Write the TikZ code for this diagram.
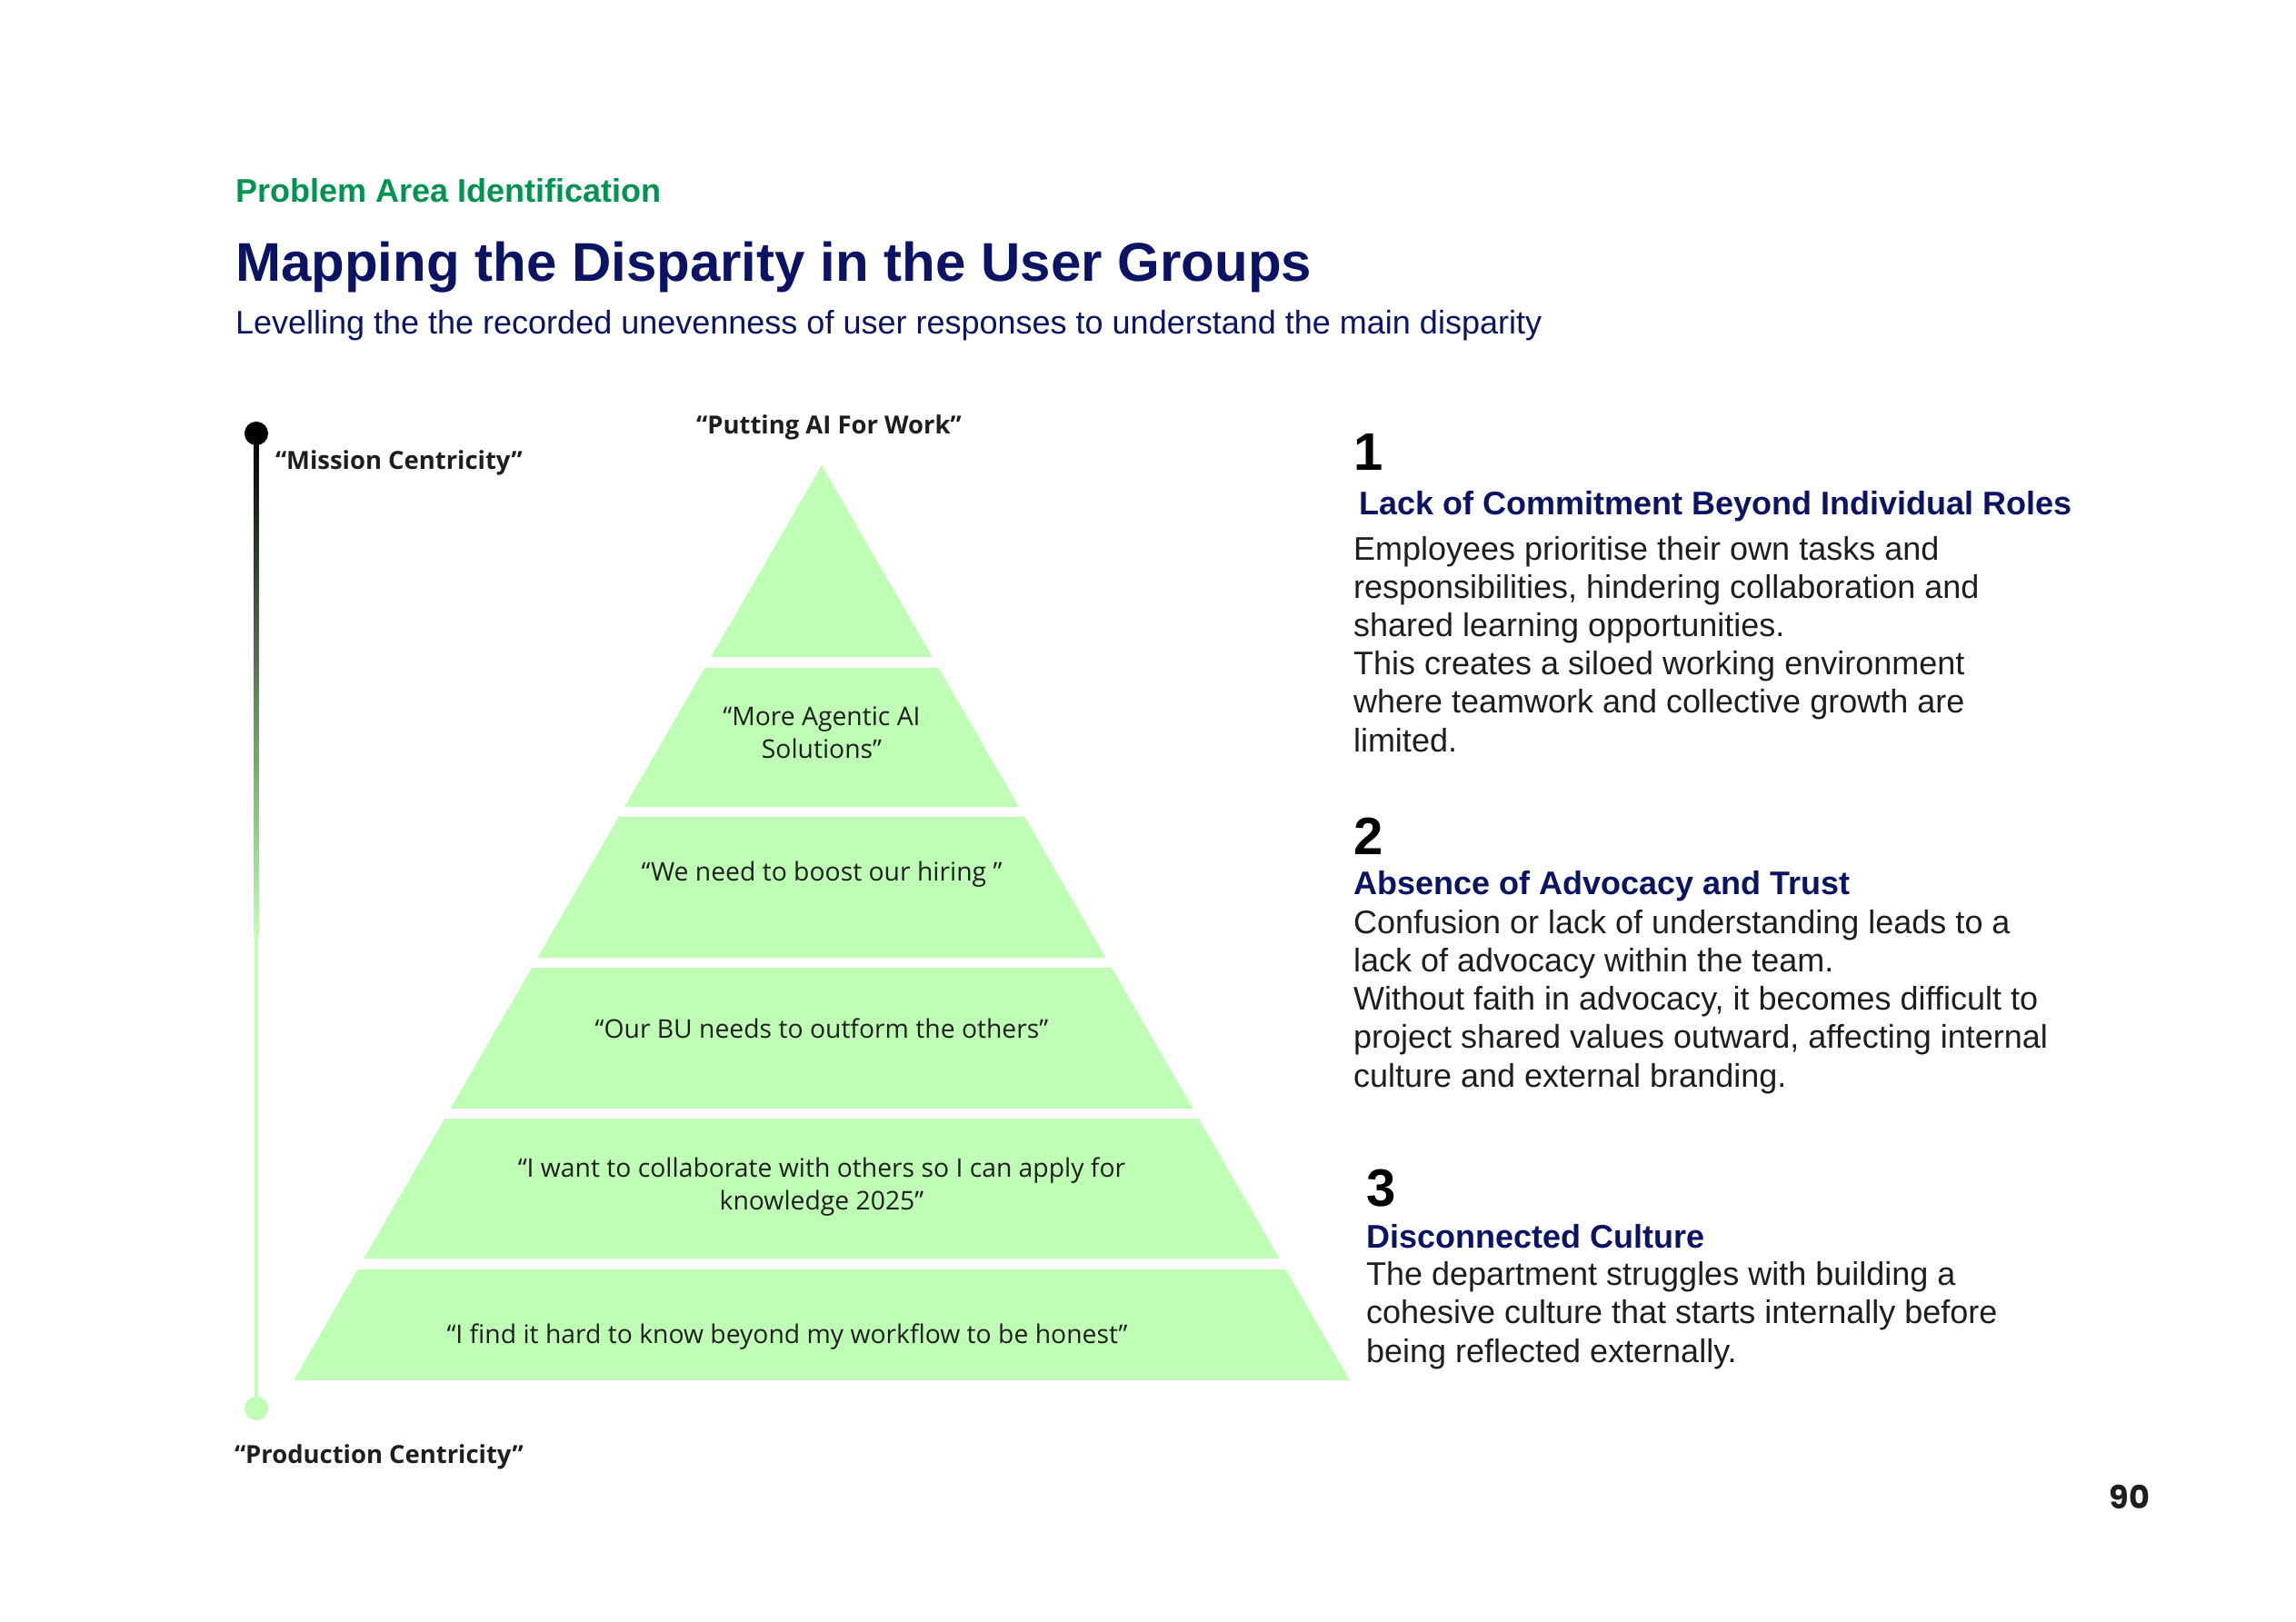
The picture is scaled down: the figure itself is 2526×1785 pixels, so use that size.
\documentclass[tikz,border=0pt]{standalone}
\usepackage{fontspec}
\setmainfont{Liberation Sans}
\newfontfamily\quotefont{Open Sans}
\newfontfamily\pagefont{Poppins}
\usetikzlibrary{positioning}

\definecolor{sectiongreen}{RGB}{0,148,80}
\definecolor{navy}{RGB}{11,20,100}
\definecolor{tiergreen}{RGB}{191,255,181}
\definecolor{inkgray}{RGB}{30,30,30}

\begin{document}
\begin{tikzpicture}[
    x=0.01cm, y=-0.01cm,
    every node/.style={inner sep=0pt, outer sep=0pt},
    heading/.style={anchor=base west, text=navy,
      font=\fontsize{10.24}{12}\selectfont\bfseries},
    body/.style={anchor=base west, align=left, text=inkgray,
      font=\fontsize{10.24}{11.95}\selectfont},
    number/.style={anchor=base west, text=black,
      font=\fontsize{16.5}{18}\selectfont\bfseries},
    tier/.style={fill=tiergreen},
    quote/.style={align=center, text=inkgray,
      font=\quotefont\fontsize{8.05}{10.2}\selectfont},
    axislabel/.style={text=inkgray,
      font=\quotefont\fontsize{7.8}{9}\selectfont\bfseries},
    dot/.style={circle, minimum size=7.4pt}
  ]
  \fill[white] (0,0) rectangle (2526,1785);
  \useasboundingbox (0,0) rectangle (2526,1785);

  % header
  \node[anchor=base west, text=sectiongreen,
    font=\fontsize{10.24}{12}\selectfont\bfseries] (section) at (259,222)
    {Problem Area Identification};
  \node[anchor=base west, text=navy,
    font=\fontsize{17.07}{20}\selectfont\bfseries] (title) at (259,310)
    {Mapping the Disparity in the User Groups};
  \node[anchor=base west, text=navy,
    font=\fontsize{10.24}{12}\selectfont] (subtitle) at (259,367)
    {Levelling the the recorded unevenness of user responses to understand the main disparity};

  % pyramid
  \foreach \ya/\yb in {512/723, 735/888, 899/1054, 1065/1220, 1231/1385, 1397/1519} {
    \pgfmathsetmacro\wa{0.5769*(\ya-512)}
    \pgfmathsetmacro\wb{0.5769*(\yb-512)}
    \fill[tier] ({904-\wa},\ya) -- ({904+\wa},\ya) -- ({904+\wb},\yb)
      -- ({904-\wb},\yb) -- cycle;
  }
  \node[axislabel] (apex) at (912,470) {“Putting AI For Work”};
  \node[quote] (agentic) at (904,806) {“More Agentic AI\\Solutions”};
  \node[quote] (hiring) at (904,962) {“We need to boost our hiring ”};
  \node[quote] (outform) at (904,1132) {“Our BU needs to outform the others”};
  \node[quote] (collab) at (904,1306)
    {“I want to collaborate with others so I can apply for\\knowledge 2025”};
  \node[quote] (workflow) at (866,1471)
    {“I find it hard to know beyond my workflow to be honest”};

  % centricity axis
  \node[dot, fill=black] (mission dot) at (282,477) {};
  \node[dot, fill=tiergreen] (production dot) at (282,1550) {};
  \coordinate (fade end) at (282,1030);
  \shade[top color=black, bottom color=tiergreen]
    ([xshift=-0.7pt]mission dot.center) rectangle ([xshift=0.7pt]fade end);
  \draw[tiergreen, line width=1.4pt] (fade end) -- (production dot);
  \node[axislabel, anchor=west] (mission) at (303,509) {“Mission Centricity”};
  \node[axislabel, anchor=west] (production) at (258,1603)
    {“Production Centricity”};

  % findings
  \node[number] (one) at (1489,518) {1};
  \node[heading] (commitment) at (1495,566)
    {Lack of Commitment Beyond Individual Roles};
  \node[body] (commitment text) at (1489,827) {%
    Employees prioritise their own tasks and\\
    responsibilities, hindering collaboration and\\
    shared learning opportunities.\\
    This creates a siloed working environment\\
    where teamwork and collective growth are\\
    limited.};

  \node[number] (two) at (1489,940) {2};
  \node[heading] (advocacy) at (1489,984) {Absence of Advocacy and Trust};
  \node[body] (advocacy text) at (1489,1196) {%
    Confusion or lack of understanding leads to a\\
    lack of advocacy within the team.\\
    Without faith in advocacy, it becomes difficult to\\
    project shared values outward, affecting internal\\
    culture and external branding.};

  \node[number] (three) at (1503,1327) {3};
  \node[heading] (culture) at (1503,1373) {Disconnected Culture};
  \node[body] (culture text) at (1503,1499) {%
    The department struggles with building a\\
    cohesive culture that starts internally before\\
    being reflected externally.};

  \node[anchor=base east, text=inkgray,
    font=\pagefont\bfseries\fontsize{10}{12}\selectfont] (page) at (2365,1660) {90};
\end{tikzpicture}
\end{document}
